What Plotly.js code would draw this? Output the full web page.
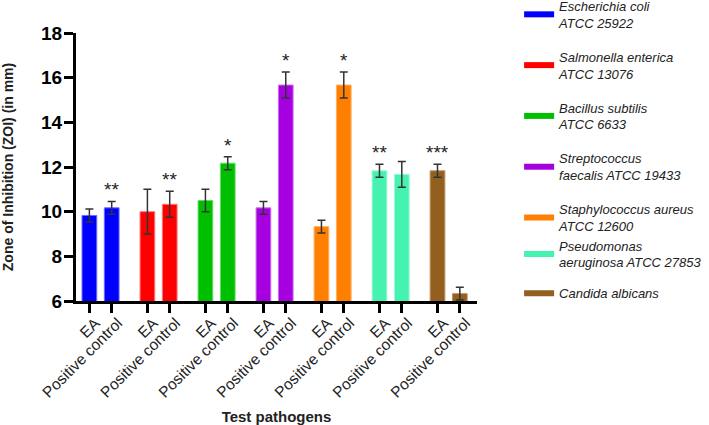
<!DOCTYPE html>
<html>
<head>
<meta charset="utf-8">
<script src="https://cdn.plot.ly/plotly-3.0.1.min.js"></script>
<style>html,body{margin:0;padding:0;background:#fff;}#chart{width:709px;height:425px;}</style>
</head>
<body>
<div id="chart"></div>
<script>
// ---- data ----
var pathogens = [
  "Escherichia coli<br>ATCC 25922",
  "Salmonella enterica<br>ATCC 13076",
  "Bacillus subtilis<br>ATCC 6633",
  "Streptococcus<br>faecalis ATCC 19433",
  "Staphylococcus aureus<br>ATCC 12600",
  "Pseudomonas<br>aeruginosa ATCC 27853",
  "Candida albicans"
];
var treatments = ["EA", "Positive control"];
var eaValues = [9.83, 10.0, 10.5, 10.17, 9.33, 11.83, 11.83];
var eaErrors = [0.29, 1.0, 0.5, 0.29, 0.29, 0.29, 0.29];
var pcValues = [10.17, 10.33, 12.17, 15.67, 15.67, 11.67, 6.33];
var pcErrors = [0.29, 0.58, 0.29, 0.58, 0.58, 0.58, 0.29];
var eaStars = ["", "", "", "", "", "**", "***"];
var pcStars = ["**", "**", "*", "*", "*", "", ""];
var colors = ["#0000FF", "#FF0000", "#00BF00", "#A700E0", "#FF8000", "#45F2B0", "#925F1F"];
var edgeColors = ["#6B6BFF", "#FF7A7A", "#66DD66", "#CC70F0", "#FFB066", "#A0F8D8", "#C09060"];

// ---- layout helpers ----
var groupStep = 2.6;
var traces = [];
var tickvals = [], ticktext = [];
var annotations = [];

pathogens.forEach(function (name, i) {
  var x0 = i * groupStep, x1 = x0 + 1;
  traces.push({
    type: "bar",
    x: [x0, x1],
    y: [eaValues[i], pcValues[i]],
    width: 0.66,
    marker: { color: colors[i], line: { color: edgeColors[i], width: 1 } },
    error_y: { type: "data", array: [eaErrors[i], pcErrors[i]], visible: true,
               color: "#333333", thickness: 1.5, width: 4 },
    showlegend: false,
    hoverinfo: "y"
  });
  traces.push({
    type: "scatter", mode: "lines",
    x: [null], y: [null],
    name: name,
    line: { color: colors[i], width: 6 },
    legendgroup: "g" + i,
    legend: i < 5 ? "legend" : "legend2"
  });
  tickvals.push(x0, x1);
  ticktext.push(treatments[0], treatments[1]);
  [[x0, eaValues[i] + eaErrors[i], eaStars[i]], [x1, pcValues[i] + pcErrors[i], pcStars[i]]].forEach(function (s) {
    if (s[2]) {
      annotations.push({
        x: s[0], y: s[1], xref: "x", yref: "y", text: s[2], showarrow: false,
        yanchor: "bottom", yshift: -1,
        font: { family: "Liberation Sans, Arial, sans-serif", size: 19, color: "#222" }
      });
    }
  });
});

var legendFont = { size: 13, style: "italic", color: "#222" };
var layout = {
  width: 709, height: 425,
  margin: { l: 76, r: 232, t: 33, b: 124, autoexpand: false },
  paper_bgcolor: "#fff", plot_bgcolor: "#fff",
  barmode: "overlay",
  font: { family: "Liberation Sans, Arial, sans-serif", color: "#222" },
  xaxis: {
    range: [-0.6, 6 * groupStep + 1.77],
    tickmode: "array", tickvals: tickvals, ticktext: ticktext,
    tickangle: -45,
    ticks: "outside", ticklen: 9, tickwidth: 3, tickcolor: "#000",
    ticklabelshift: 6, ticklabelstandoff: -5,
    showline: true, linewidth: 3, linecolor: "#000",
    showgrid: false, zeroline: false,
    tickfont: { size: 15.5, color: "#222" },
    title: { text: "<b>Test pathogens</b>", font: { size: 15, color: "#222" }, standoff: 21 }
  },
  yaxis: {
    range: [6, 18], tickvals: [6, 8, 10, 12, 14, 16, 18],
    ticks: "outside", ticklen: 9, tickwidth: 3, tickcolor: "#000",
    ticklabelstandoff: -2,
    showline: true, linewidth: 3, linecolor: "#000",
    showgrid: false, zeroline: false,
    tickfont: { size: 19, color: "#000", weight: "bold" },
    title: { text: "<b>Zone of Inhibition (ZOI) (in mm)</b>", font: { size: 14, color: "#222" }, standoff: 27 }
  },
  legend: {
    x: 1.105, y: 1.157, xanchor: "left", yanchor: "top",
    font: legendFont, tracegroupgap: 14, maxheight: 420,
    bgcolor: "rgba(0,0,0,0)"
  },
  legend2: {
    x: 1.105, y: 0.263, xanchor: "left", yanchor: "top",
    font: legendFont, tracegroupgap: 11, maxheight: 420,
    bgcolor: "rgba(0,0,0,0)"
  },
  annotations: annotations,
  showlegend: true
};

Plotly.newPlot("chart", traces, layout, { displayModeBar: false, staticPlot: true });
</script>
</body>
</html>
